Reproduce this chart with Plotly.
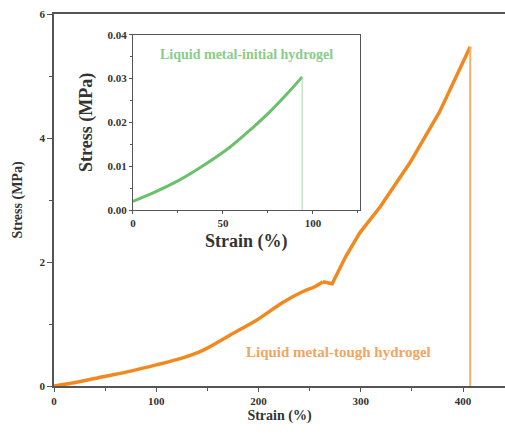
import plotly.graph_objects as go

# Main curve: Liquid metal-tough hydrogel (smooth part up to the small drop)
tough_strain_a = [0, 22, 48, 75, 100, 125, 146, 172, 198, 224, 243, 255, 263]
tough_stress_a = [0, 0.06, 0.15, 0.24, 0.34, 0.45, 0.58, 0.82, 1.06, 1.35, 1.52, 1.60, 1.68]
# after the small drop
tough_strain_b = [263, 268, 272, 285, 299, 319, 348, 377, 392, 407]
tough_stress_b = [1.68, 1.66, 1.65, 2.08, 2.47, 2.89, 3.60, 4.42, 4.95, 5.47]
tough_break_strain = [407, 407]
tough_break_stress = [5.47, 0]

# Inset curve: Liquid metal-initial hydrogel
init_strain = [0, 10, 26, 40, 54, 66, 76, 86, 94]
init_stress = [0.0020, 0.0037, 0.0069, 0.0104, 0.0144, 0.0186, 0.0224, 0.0267, 0.0304]
init_break_strain = [94, 94]
init_break_stress = [0.0304, 0]

main_ticks_x = [0, 100, 200, 300, 400]
main_ticks_y = [0, 2, 4, 6]
inset_ticks_x = [0, 50, 100]
inset_ticks_y = [0, 0.01, 0.02, 0.03, 0.04]
inset_ticklabels_y = ["0.00", "0.01", "0.02", "0.03", "0.04"]

ORANGE = "#f0891f"
ORANGE_LIGHT = "#f3b06a"
GREEN = "#6cbf6c"
AXC = "#555555"
FONT = "Liberation Serif"

fig = go.Figure()
fig.add_trace(go.Scatter(x=tough_strain_a, y=tough_stress_a, mode="lines",
                         line=dict(color=ORANGE, width=3.5, shape="spline", smoothing=0.8),
                         xaxis="x", yaxis="y"))
fig.add_trace(go.Scatter(x=tough_strain_b, y=tough_stress_b, mode="lines",
                         line=dict(color=ORANGE, width=3.5), xaxis="x", yaxis="y"))
fig.add_trace(go.Scatter(x=tough_break_strain, y=tough_break_stress, mode="lines",
                         line=dict(color=ORANGE_LIGHT, width=2), xaxis="x", yaxis="y"))
fig.add_trace(go.Scatter(x=init_strain, y=init_stress, mode="lines",
                         line=dict(color=GREEN, width=3, shape="spline"), xaxis="x2", yaxis="y2"))
fig.add_trace(go.Scatter(x=init_break_strain, y=init_break_stress, mode="lines",
                         line=dict(color="#a8d8a8", width=1), xaxis="x2", yaxis="y2"))

tickfont_main = dict(family=FONT, size=11, color="#333333", weight="bold")
tickfont_inset = dict(family=FONT, size=11, color="#333333", weight="bold")
fig.update_layout(
    width=505, height=438,
    margin=dict(l=54, r=0, t=14, b=52),
    paper_bgcolor="white", plot_bgcolor="white",
    showlegend=False,
    font=dict(family=FONT),
    xaxis=dict(range=[0, 441], tickvals=main_ticks_x, showgrid=False, zeroline=False,
               showline=True, linecolor=AXC, linewidth=1.5, mirror=True,
               ticks="outside", ticklen=4, tickcolor=AXC,
               minor=dict(tickvals=[50, 150, 250, 350], ticks="outside", ticklen=3, tickcolor=AXC),
               tickfont=tickfont_main,
               title=dict(text="<b>Strain (%)</b>", font=dict(family=FONT, size=14, color="#333333"), standoff=4)),
    yaxis=dict(range=[0, 6], tickvals=main_ticks_y, showgrid=False, zeroline=False,
               showline=True, linecolor=AXC, linewidth=1.5, mirror=False,
               ticks="outside", ticklen=5, tickcolor=AXC,
               minor=dict(tickvals=[1, 3, 5], ticks="outside", ticklen=3, tickcolor=AXC),
               tickfont=tickfont_main,
               title=dict(text="<b>Stress (MPa)</b>", font=dict(family=FONT, size=14, color="#333333"), standoff=14)),
    xaxis2=dict(domain=[0.175, 0.678], anchor="y2", range=[0, 126], tickvals=inset_ticks_x,
                showgrid=False, zeroline=False, showline=True, linecolor=AXC, linewidth=1, mirror=True,
                ticks="outside", ticklen=3, tickcolor=AXC,
                minor=dict(tickvals=[25, 75, 125], ticks="outside", ticklen=2, tickcolor=AXC),
                tickfont=tickfont_inset,
                title=dict(text="<b>Strain (%)</b>", font=dict(family=FONT, size=18, color="#333333"), standoff=6)),
    yaxis2=dict(domain=[0.473, 0.944], anchor="x2", range=[0, 0.04], tickvals=inset_ticks_y,
                ticktext=inset_ticklabels_y,
                showgrid=False, zeroline=False, showline=True, linecolor=AXC, linewidth=1, mirror=True,
                ticks="outside", ticklen=3, tickcolor=AXC,
                minor=dict(tickvals=[0.005, 0.015, 0.025, 0.035], ticks="outside", ticklen=2, tickcolor=AXC),
                tickfont=tickfont_inset,
                title=dict(text="<b>Stress (MPa)</b>", font=dict(family=FONT, size=18, color="#333333"), standoff=10)),
)

fig.add_annotation(text="<b>Liquid metal-initial hydrogel</b>", xref="x2", yref="y2",
                   x=63, y=0.0355, showarrow=False,
                   font=dict(family=FONT, size=14, color="#8acb8a"))
fig.add_annotation(text="<b>Liquid metal-tough hydrogel</b>", xref="x", yref="y",
                   x=278, y=0.55, showarrow=False,
                   font=dict(family=FONT, size=15, color="#f0a560"))

fig.write_html("out.html")
